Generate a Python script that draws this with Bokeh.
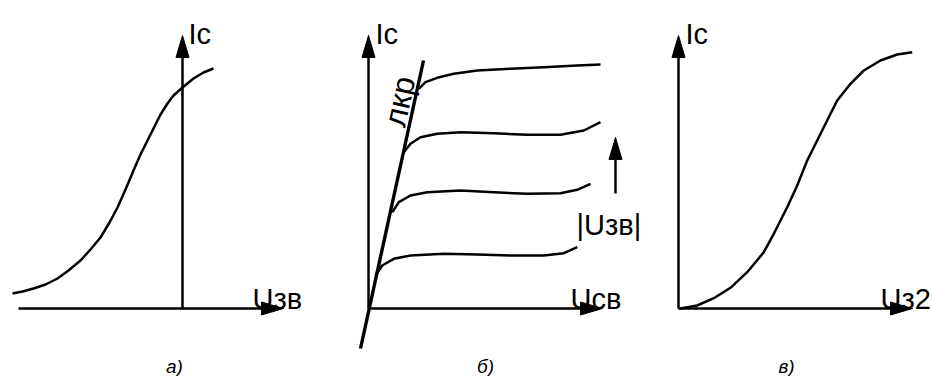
import math
from bokeh.plotting import figure
from bokeh.models import Range1d
from bokeh.core.properties import value
from bokeh.embed import file_html
from bokeh.resources import INLINE

# ---------------- data (pixel units, y down) ----------------
# panel а) transfer characteristic (depletion FET)
a_origin = (182, 308)
a_x_axis = [18, 283]          # x start, arrow tip
a_y_axis = [308, 35]          # y start, arrow tip
a_curve_x = [12, 22, 33, 45, 57, 68, 80, 90, 100, 109, 117, 125, 133, 140, 147, 154, 160, 167, 173, 182, 193, 203, 213]
a_curve_y = [293, 291, 288, 284, 278, 270, 260, 249, 237, 222, 207, 189, 170, 154, 140, 126, 114, 103, 95, 87, 78, 72, 68]

# panel б) output characteristics
b_origin = (368, 308)
b_x_axis = [368, 602]
b_y_axis = [308, 35]
lkr_x = [360, 423]
lkr_y = [348, 60]
b_curves_x = [
    [375, 381.7, 393.3, 410, 443.3, 476.7, 510, 543.3, 563.3, 576.7],
    [391.7, 398.3, 410, 426.7, 460, 493.3, 526.7, 560, 576.7, 590],
    [403.3, 410, 420, 436.7, 460, 493.3, 526.7, 560, 583.3, 600],
    [418.3, 425, 436.7, 453.3, 476.7, 510, 543.3, 576.7, 600],
]
b_curves_y = [
    [275, 265, 258.3, 255, 253.3, 254, 255, 255, 252.7, 246.7],
    [211.7, 201.7, 195, 191.7, 190, 191.7, 193.3, 192.7, 189.3, 183.3],
    [151.7, 143.3, 136.7, 133.3, 131.7, 132.7, 134.3, 134.3, 130, 121.7],
    [88.3, 81.7, 77.3, 73.3, 70, 68.3, 66.7, 65, 64],
]
b_param_arrow_x = 615
b_param_arrow_y = [193, 137]

# panel в) transfer characteristic (enhancement FET)
c_origin = (678, 308)
c_x_axis = [678, 912]
c_y_axis = [308, 35]
c_curve_x = [678.3, 696.7, 713.3, 730, 746.7, 763.3, 773.3, 786.7, 796.7, 806.7, 816.7, 830, 836.7, 850, 863.3, 880, 896.7, 911.7]
c_curve_y = [308.3, 305, 297.7, 287.3, 271.7, 251.7, 233.3, 206.7, 185, 160, 140, 113.3, 100, 83.3, 70, 60, 54, 51.7]

# labels
label_text = ["Ic", "Uзв", "Ic", "Uсв", "|Uзв|", "Ic", "Uз2"]
label_x = [188, 252, 375, 570, 576, 685, 880]
label_y = [33, 298, 33, 298, 224, 33, 298]
caption_text = ["а)", "б)", "в)"]
caption_x = [174, 485, 786]
caption_y = [366, 366, 366]
lkr_label = "лкр"
lkr_label_pos = (399, 101)

# ---------------- styles ----------------
FONT = value("Liberation Sans")
ARROW_L = 22
ARROW_W = 13
LW = 2.5
W, H = 932, 376

p = figure(width=W, height=H, x_range=Range1d(0, W), y_range=Range1d(H, 0),
           x_axis_type=None, y_axis_type=None, toolbar_location=None,
           output_backend="svg", min_border=0, outline_line_color=None)
p.grid.visible = False
p.background_fill_color = "white"
p.border_fill_color = "white"

def h_axis(x0, x1, y):
    p.line([x0, x1 - ARROW_L + 2], [y, y], line_color="black", line_width=LW)
    p.patch([x1, x1 - ARROW_L, x1 - ARROW_L], [y, y - ARROW_W / 2, y + ARROW_W / 2],
            fill_color="black", line_color="black", line_width=1)

def v_axis(x, y0, y1):
    p.line([x, x], [y0, y1 + ARROW_L - 2], line_color="black", line_width=LW)
    p.patch([x, x - ARROW_W / 2, x + ARROW_W / 2], [y1, y1 + ARROW_L, y1 + ARROW_L],
            fill_color="black", line_color="black", line_width=1)

# panel а
h_axis(a_x_axis[0], a_x_axis[1], a_origin[1])
v_axis(a_origin[0], a_y_axis[0], a_y_axis[1])
p.line(a_curve_x, a_curve_y, line_color="black", line_width=LW, line_join="round")

# panel б
h_axis(b_x_axis[0], b_x_axis[1], b_origin[1])
v_axis(b_origin[0], b_y_axis[0], b_y_axis[1])
p.line(lkr_x, lkr_y, line_color="black", line_width=3.4)
p.multi_line(b_curves_x, b_curves_y, line_color="black", line_width=LW, line_join="round")
v_axis(b_param_arrow_x, b_param_arrow_y[0], b_param_arrow_y[1])

# panel в
h_axis(c_x_axis[0], c_x_axis[1], c_origin[1])
v_axis(c_origin[0], c_y_axis[0], c_y_axis[1])
p.line(c_curve_x, c_curve_y, line_color="black", line_width=LW, line_join="round")

# labels
p.text(label_x, label_y, text=label_text, text_font=FONT, text_font_size="29px",
       text_align="left", text_baseline="alphabetic", text_color="black")
p.text(caption_x, caption_y, text=caption_text, text_font=FONT, text_font_size="19px",
       text_font_style="italic", text_align="center", text_baseline="alphabetic", text_color="black")
ang = math.atan2(lkr_y[0] - lkr_y[1], lkr_x[1] - lkr_x[0])
p.text([lkr_label_pos[0]], [lkr_label_pos[1]], text=[lkr_label], text_font=FONT,
       text_font_size="32px", angle=ang, text_align="center", text_baseline="alphabetic",
       text_color="black")

open("out.html", "w").write(file_html(p, INLINE))
